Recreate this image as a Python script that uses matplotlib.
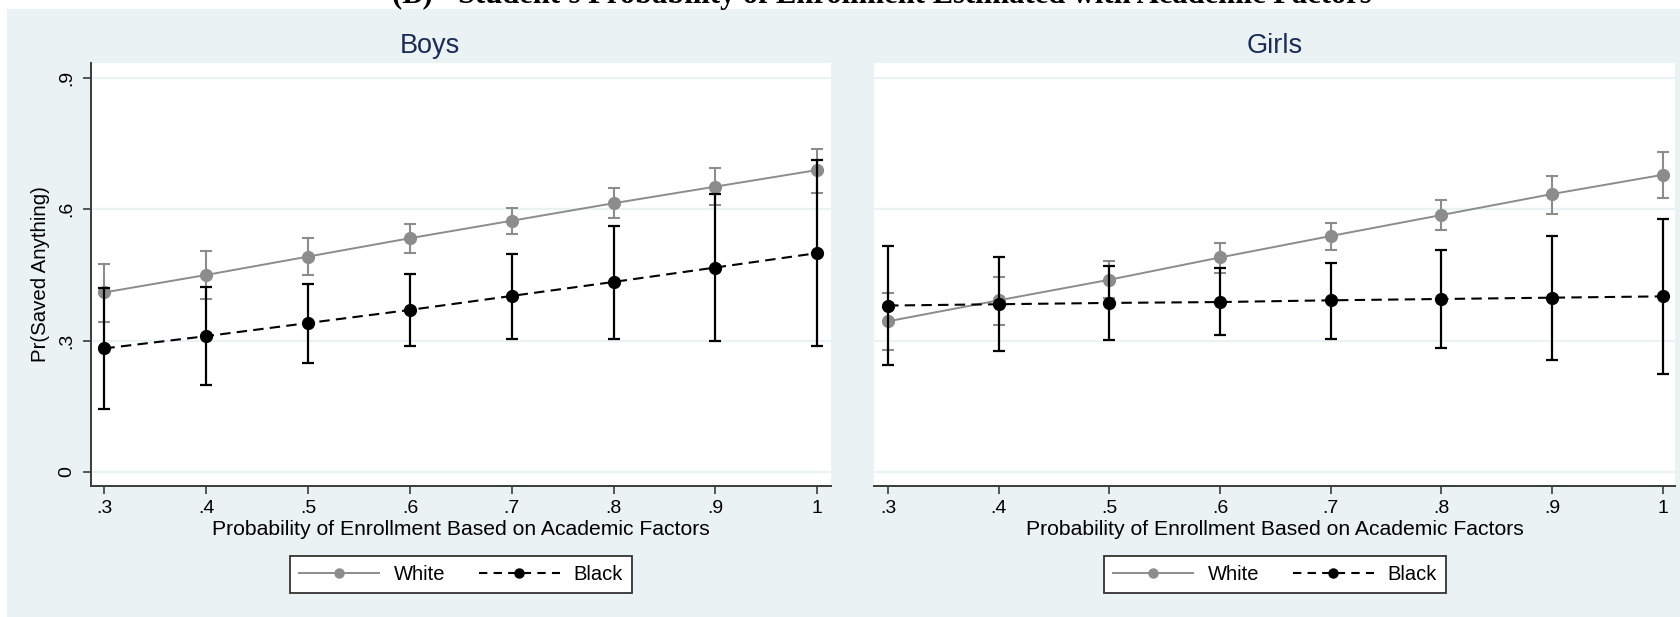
import numpy as np
import matplotlib
matplotlib.use("Agg")
import matplotlib.pyplot as plt
from matplotlib.lines import Line2D
from matplotlib.patches import Rectangle

plt.rcParams['font.family'] = ['Liberation Sans', 'DejaVu Sans']
plt.rcParams['lines.scale_dashes'] = False

# ---------------- data ----------------
x = [0.3, 0.4, 0.5, 0.6, 0.7, 0.8, 0.9, 1.0]
xtick_labels = ['.3', '.4', '.5', '.6', '.7', '.8', '.9', '1']
yticks = [0, 0.3, 0.6, 0.9]
ytick_labels = ['0', '.3', '.6', '.9']

boys_white = [0.410, 0.450, 0.492, 0.534, 0.574, 0.614, 0.652, 0.690]
boys_white_lo = [0.343, 0.396, 0.450, 0.500, 0.543, 0.581, 0.610, 0.638]
boys_white_hi = [0.476, 0.504, 0.534, 0.567, 0.604, 0.648, 0.694, 0.739]
boys_black = [0.282, 0.310, 0.340, 0.370, 0.402, 0.434, 0.467, 0.500]
boys_black_lo = [0.144, 0.198, 0.249, 0.288, 0.304, 0.304, 0.298, 0.288]
boys_black_hi = [0.420, 0.423, 0.430, 0.452, 0.498, 0.562, 0.636, 0.712]

girls_white = [0.344, 0.392, 0.439, 0.490, 0.539, 0.587, 0.635, 0.679]
girls_white_lo = [0.279, 0.336, 0.397, 0.454, 0.508, 0.552, 0.590, 0.626]
girls_white_hi = [0.409, 0.446, 0.482, 0.523, 0.569, 0.621, 0.677, 0.731]
girls_black = [0.380, 0.383, 0.386, 0.388, 0.392, 0.395, 0.398, 0.401]
girls_black_lo = [0.243, 0.276, 0.301, 0.312, 0.304, 0.283, 0.256, 0.223]
girls_black_hi = [0.517, 0.491, 0.471, 0.466, 0.478, 0.506, 0.540, 0.578]

panels = ['Boys', 'Girls']
series_names = ['White', 'Black']
title = "(B) - Student's Probability of Enrollment Estimated with Academic Factors"
xlabel = "Probability of Enrollment Based on Academic Factors"
ylabel = "Pr(Saved Anything)"

# ---------------- style ----------------
W, H = 1680, 617
DPI = 100
BG = '#EAF2F3'
GRAY = '#8C8C8C'
NAVY = '#1C2B55'
AXC = '#3A3A3A'

fig = plt.figure(figsize=(W / DPI, H / DPI), dpi=DPI, facecolor='white')

# Stata-like graph region background
fig.patches.append(Rectangle((7 / W, 0), 1 - 7 / W, 1 - 9 / H, transform=fig.transFigure,
                             facecolor=BG, edgecolor='none', zorder=-10))

# title (partly cropped at the top, as in the source image)
fig.text(882 / W, 1 - 3.5 / H, title, ha='center', va='baseline', fontsize=22,
         family='Liberation Serif', weight='bold', color='black')

ax_bottom = 485.7
ax_top = 63.3
axes_px = [(91, 831), (874, 1675)]
xlims = [(0.2869, 1.0134), (0.2873, 1.0111)]
ylim = (-0.032, 0.934)

data = [
    (boys_white, boys_white_lo, boys_white_hi, boys_black, boys_black_lo, boys_black_hi),
    (girls_white, girls_white_lo, girls_white_hi, girls_black, girls_black_lo, girls_black_hi),
]
title_x = [430, 1275]
legend_cx = [461, 1275]

for i, (px0, px1) in enumerate(axes_px):
    ax = fig.add_axes([px0 / W, (H - ax_bottom) / H, (px1 - px0) / W, (ax_bottom - ax_top) / H])
    ax.set_facecolor('white')
    wy, wlo, whi, by, blo, bhi = [np.array(a) for a in data[i]]

    for yv in yticks:
        ax.axhline(yv, color=BG, lw=1.6, zorder=0)

    ax.errorbar(x, wy, yerr=[wy - wlo, whi - wy], fmt='none', ecolor=GRAY,
                elinewidth=1.5, capsize=4.5, capthick=1.5, zorder=2)
    ax.plot(x, wy, color=GRAY, lw=1.4, marker='o', ms=8.5, mfc=GRAY, mec=GRAY, zorder=3)
    ax.errorbar(x, by, yerr=[by - blo, bhi - by], fmt='none', ecolor='black',
                elinewidth=1.6, capsize=4.5, capthick=1.6, zorder=4)
    ax.plot(x, by, color='black', lw=1.5, ls=(0, (7.5, 4.5)), marker='o', ms=8.5,
            mfc='black', mec='black', zorder=5)

    ax.set_xlim(*xlims[i])
    ax.set_ylim(*ylim)
    ax.set_xticks(x)
    ax.set_xticklabels(xtick_labels)
    ax.set_yticks(yticks)
    ax.set_yticklabels(ytick_labels)
    for s in ['top', 'right']:
        ax.spines[s].set_visible(False)
    ax.spines['bottom'].set_color(AXC)
    ax.spines['bottom'].set_linewidth(1.4)
    ax.tick_params(axis='x', length=6, width=1.2, color=AXC, labelsize=14, pad=4.5)
    if i == 0:
        ax.spines['left'].set_color(AXC)
        ax.spines['left'].set_linewidth(1.4)
        ax.tick_params(axis='y', length=6, width=1.2, color=AXC, labelsize=14, pad=5,
                       labelrotation=90)
        for lab in ax.get_yticklabels():
            lab.set_va('center')
        ax.set_ylabel(ylabel, fontsize=14.7, labelpad=6)
    else:
        ax.spines['left'].set_visible(False)
        ax.tick_params(axis='y', left=False, labelleft=False)
    ax.set_xlabel(xlabel, fontsize=15.2, labelpad=2)

    fig.text(title_x[i] / W, 1 - 46 / H, panels[i], ha='center', va='center',
             fontsize=19.5, color=NAVY)

    handles = [
        Line2D([], [], color=GRAY, lw=1.4, marker='o', ms=6.5, mfc=GRAY, mec=GRAY),
        Line2D([], [], color='black', lw=1.5, ls=(0, (6, 4.5)), marker='o', ms=6.5,
               mfc='black', mec='black'),
    ]
    leg = fig.legend(handles, series_names, loc='center',
                     bbox_to_anchor=(legend_cx[i] / W, 1 - 574.5 / H), ncol=2,
                     fontsize=14.5, frameon=True, fancybox=False, handlelength=4.0,
                     handletextpad=0.7, columnspacing=1.7, borderpad=0.45,
                     numpoints=1, borderaxespad=0)
    fr = leg.get_frame()
    fr.set_edgecolor('#333333')
    fr.set_linewidth(1.3)
    fr.set_facecolor('white')
    fr.set_alpha(1)

fig.savefig('out.png', dpi=DPI, facecolor=fig.get_facecolor())
